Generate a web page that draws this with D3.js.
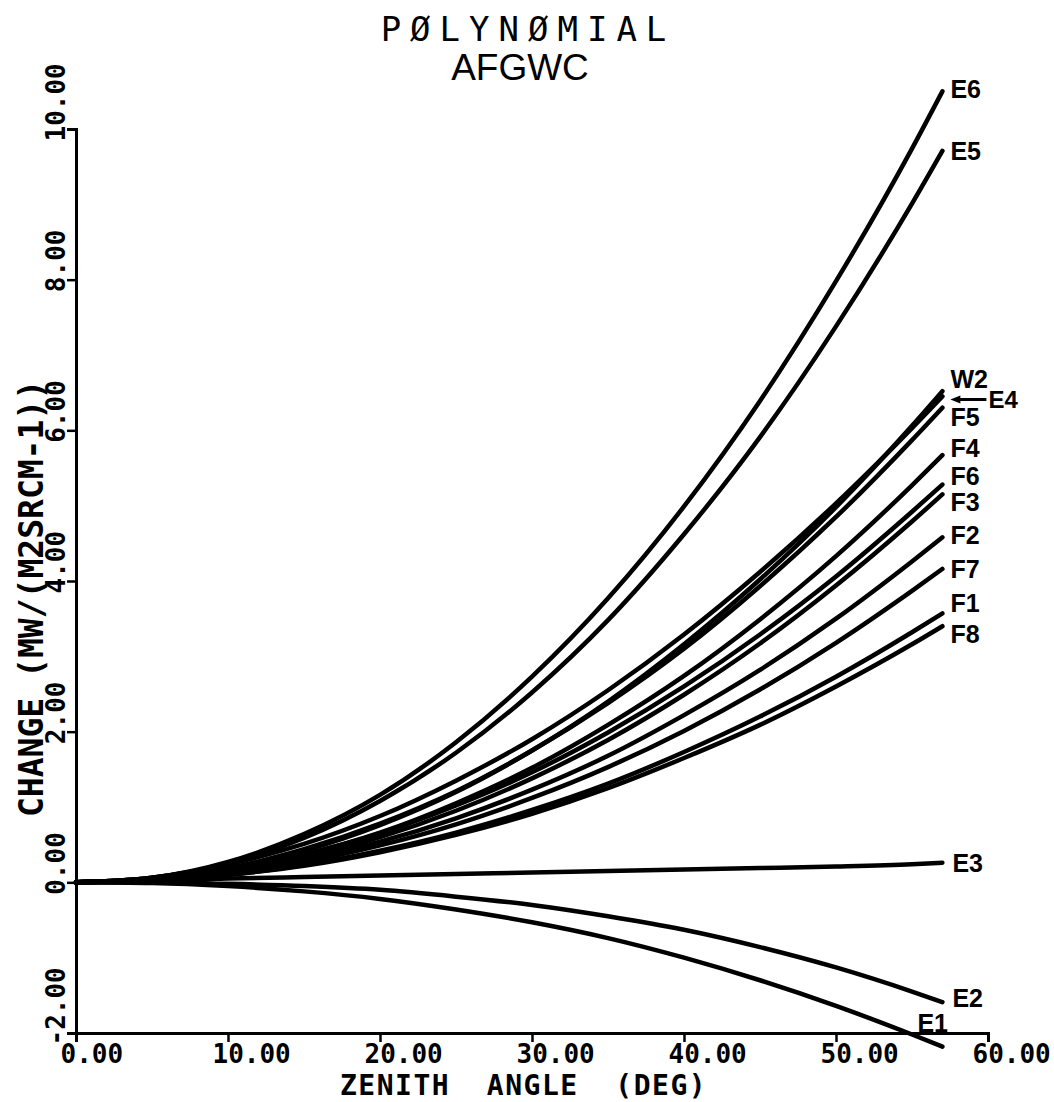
<!DOCTYPE html>
<html><head><meta charset="utf-8">
<script src="https://cdn.jsdelivr.net/npm/d3@7"></script>
<style>body{margin:0;background:#fff}svg{display:block}</style>
</head><body>
<svg id="c" width="1054" height="1102"></svg>
<script>
// ---- data ----
const zenith = [0, 5, 10, 15, 20, 25, 30, 35, 40, 45, 50, 55, 57];
const E6 = [0, 0.06, 0.27, 0.64, 1.16, 1.86, 2.73, 3.77, 4.99, 6.39, 7.98, 9.74, 10.50];
const E5 = [0, 0.06, 0.25, 0.59, 1.08, 1.72, 2.52, 3.48, 4.62, 5.91, 7.38, 9.01, 9.71];
const W2 = [0, 0.04, 0.18, 0.42, 0.76, 1.20, 1.75, 2.40, 3.16, 4.02, 4.98, 6.06, 6.52];
const E4 = [0, 0.06, 0.24, 0.51, 0.88, 1.35, 1.90, 2.55, 3.29, 4.12, 5.03, 6.03, 6.45];
const F5 = [0, 0.05, 0.19, 0.44, 0.78, 1.21, 1.75, 2.38, 3.10, 3.93, 4.85, 5.87, 6.30];
const F4 = [0, 0.04, 0.16, 0.37, 0.66, 1.05, 1.52, 2.09, 2.74, 3.49, 4.33, 5.27, 5.67];
const F6 = [0, 0.04, 0.16, 0.37, 0.65, 1.02, 1.46, 1.99, 2.60, 3.29, 4.06, 4.92, 5.28];
const F3 = [0, 0.04, 0.15, 0.33, 0.60, 0.95, 1.38, 1.89, 2.49, 3.17, 3.94, 4.79, 5.15];
const F2 = [0, 0.03, 0.13, 0.30, 0.54, 0.85, 1.23, 1.68, 2.22, 2.82, 3.50, 4.26, 4.58];
const F7 = [0, 0.03, 0.12, 0.27, 0.49, 0.77, 1.12, 1.53, 2.01, 2.56, 3.18, 3.87, 4.16];
const F1 = [0, 0.02, 0.10, 0.23, 0.42, 0.66, 0.96, 1.31, 1.73, 2.20, 2.73, 3.32, 3.57];
const F8 = [0, 0.02, 0.10, 0.22, 0.40, 0.63, 0.91, 1.25, 1.65, 2.09, 2.60, 3.16, 3.40];
const E3 = [0, 0.02, 0.05, 0.07, 0.09, 0.11, 0.13, 0.15, 0.17, 0.19, 0.21, 0.24, 0.26];
const E2 = [0, 0.00, -0.02, -0.05, -0.10, -0.19, -0.30, -0.45, -0.63, -0.86, -1.13, -1.45, -1.59];
const E1 = [0, -0.01, -0.05, -0.12, -0.22, -0.36, -0.53, -0.74, -1.00, -1.30, -1.64, -2.02, -2.18];

const seriesNames = ["E6","E5","W2","E4","F5","F4","F6","F3","F2","F7","F1","F8","E3","E2","E1"];
const seriesValues = [E6,E5,W2,E4,F5,F4,F6,F3,F2,F7,F1,F8,E3,E2,E1];

const xTicks = [0, 10, 20, 30, 40, 50, 60];
const xTickLabels = ["0.00","10.00","20.00","30.00","40.00","50.00","60.00"];
const yTicks = [-2, 0, 2, 4, 6, 8, 10];
const yTickLabels = ["-2.00","0.00","2.00","4.00","6.00","8.00","10.00"];

const titleLine1 = "PØLYNØMIAL";
const titleLine2 = "AFGWC";
const xTitle = "ZENITH  ANGLE  (DEG)";
const yTitle = "CHANGE (MW/(M2SRCM-1))";

// ---- drawing ----
const svg = d3.select("#c");
svg.append("rect").attr("width",1054).attr("height",1102).attr("fill","#fff");

const x = d3.scaleLinear().domain([0,60]).range([76,988]);
const y = d3.scaleLinear().domain([-2,10]).range([1033,129]);

const monoBold = "'DejaVu Sans Mono', monospace";

// x axis
const gx = svg.append("g").attr("transform",`translate(0,${y(-2)})`)
  .call(d3.axisBottom(x).tickValues(xTicks).tickFormat((d,i)=>xTickLabels[i]).tickSize(9).tickSizeOuter(9));
gx.select(".domain").attr("stroke","#000").attr("stroke-width",3);
gx.selectAll(".tick line").attr("stroke","#000").attr("stroke-width",2.5);
gx.selectAll(".tick text").attr("fill","#000").attr("font-family",monoBold).attr("font-weight","bold")
  .attr("font-size",26).attr("text-anchor","start").attr("x",-16).attr("y",12).attr("dy","0.71em");

// y axis
const gy = svg.append("g").attr("transform",`translate(${x(0)},0)`)
  .call(d3.axisLeft(y).tickValues(yTicks).tickFormat((d,i)=>yTickLabels[i]).tickSize(9).tickSizeOuter(9));
gy.select(".domain").attr("stroke","#000").attr("stroke-width",3);
gy.selectAll(".tick line").attr("stroke","#000").attr("stroke-width",2.5);
gy.selectAll(".tick text").attr("fill","#000").attr("font-family",monoBold).attr("font-weight","bold")
  .attr("font-size",26).attr("text-anchor","start").attr("x",0).attr("y",0).attr("dy",0)
  .attr("transform","translate(-11,12) rotate(-90)");

// curves
const line = d3.line().x(d=>x(d[0])).y(d=>y(d[1])).curve(d3.curveMonotoneX);
seriesValues.forEach((vals,i)=>{
  svg.append("path").datum(zenith.map((z,j)=>[z,vals[j]]))
    .attr("d",line).attr("fill","none").attr("stroke","#000")
    .attr("stroke-width",4.5).attr("stroke-linecap","round").attr("stroke-linejoin","round");
});

// end labels
const labelShift = {E6:[8,-2],E5:[8,0],W2:[8,-12],F5:[8,9],F4:[8,-7],F6:[8,-9],F3:[8,8],
  F2:[8,-2],F7:[8,0],F1:[8,-10],F8:[8,8],E3:[10,0],E2:[10,-4],E1:[-25,-24]};
const labelFont = "'Liberation Sans', Arial, sans-serif";
seriesNames.forEach((name,i)=>{
  const vals = seriesValues[i];
  const ex = x(zenith[zenith.length-1]), ey = y(vals[vals.length-1]);
  if (name === "E4") {
    const tx = ex + 46, ty = ey + 3;
    svg.append("line").attr("x1",tx-2).attr("y1",ty).attr("x2",ex+12).attr("y2",ty)
      .attr("stroke","#000").attr("stroke-width",3);
    svg.append("path").attr("d",`M${ex+8},${ty} l10,-4 l0,8 z`).attr("fill","#000");
    svg.append("text").attr("x",tx).attr("y",ty).attr("dy","0.36em").text(name)
      .attr("font-family",labelFont).attr("font-weight","bold").attr("font-size",24).attr("fill","#000");
    return;
  }
  const s = labelShift[name];
  svg.append("text").attr("x",ex+s[0]).attr("y",ey+s[1]).attr("dy","0.36em").text(name)
    .attr("font-family",labelFont).attr("font-weight","bold").attr("font-size",25).attr("fill","#000");
});

// titles
svg.append("text").attr("x",528).attr("y",41).attr("text-anchor","middle").text(titleLine1)
  .attr("font-family","'DejaVu Sans Mono', monospace").attr("font-size",34).attr("letter-spacing",9).attr("fill","#000");
svg.append("text").attr("x",520).attr("y",80).attr("text-anchor","middle").text(titleLine2)
  .attr("font-family","'Liberation Sans', Arial, sans-serif").attr("font-size",37).attr("fill","#000");

svg.append("text").attr("x",340).attr("y",1095).attr("xml:space","preserve").style("white-space","pre")
  .text(xTitle).attr("font-family",monoBold).attr("font-weight","bold").attr("font-size",28)
  .attr("letter-spacing",1.5).attr("fill","#000");

svg.append("text").attr("transform","translate(43,817) rotate(-90)").style("white-space","pre")
  .text(yTitle).attr("font-family",monoBold).attr("font-weight","bold").attr("font-size",33).attr("fill","#000");
</script>
</body></html>
